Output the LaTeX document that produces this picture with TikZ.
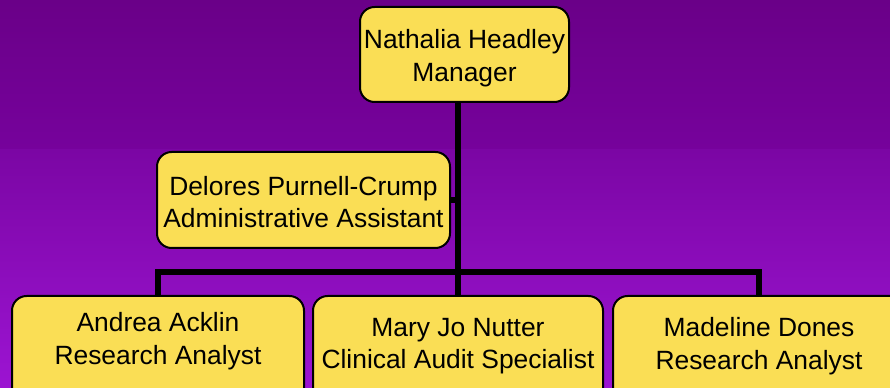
\documentclass[tikz,border=0pt]{standalone}
\usepackage{fontspec}
\setmainfont{Liberation Sans}
\definecolor{boxyellow}{RGB}{250,222,85}
\definecolor{bgtopA}{RGB}{106,0,136}
\definecolor{bgtopB}{RGB}{118,2,156}
\definecolor{bgbotA}{RGB}{123,6,164}
\definecolor{bgbotB}{RGB}{156,20,210}
\tikzset{
  orgbox/.style={draw=black, line width=1.5pt, fill=boxyellow, rounded corners=11pt, inner sep=0pt},
  orgtext/.style={align=center, inner sep=0pt, font=\fontsize{19.8}{24.5}\selectfont},
  conn/.style={draw=black, line width=4.5pt, line join=miter, line cap=butt}
}
\begin{document}
\begin{tikzpicture}[x=0.75pt, y=-0.75pt]
\useasboundingbox (0,0) rectangle (890,388);
\clip (0,0) rectangle (890,388);
\shade[top color=bgtopA, bottom color=bgtopB] (0,0) rectangle (890,150);
\shade[top color=bgbotA, bottom color=bgbotB] (0,150) rectangle (890,388);

% boxes
\node[orgbox, minimum width=156.75pt, minimum height=71.25pt] (mgr) at (464.5,54.5) {};
\node[orgtext] (mgrtxt) at (464.5,58.5) {Nathalia Headley\\Manager};

\node[orgbox, minimum width=219.75pt, minimum height=72pt] (asst) at (303.5,200) {};
\node[orgtext] (assttxt) at (303.5,202) {Delores Purnell-Crump\\Administrative Assistant};

\node[orgbox, minimum width=219pt, minimum height=82.5pt] (andrea) at (158,351) {};
\node[orgtext] (andreatxt) at (158,341.25) {Andrea Acklin\\Research Analyst};

\node[orgbox, minimum width=217.5pt, minimum height=82.5pt] (mary) at (458,351) {};
\node[orgtext] (marytxt) at (458,346.25) {Mary Jo Nutter\\Clinical Audit Specialist};

\node[orgbox, minimum width=219pt, minimum height=82.5pt] (madeline) at (759,351) {};
\node[orgtext] (madelinetxt) at (759,346.25) {Madeline Dones\\Research Analyst};

% connectors
\coordinate (trunk) at (458,272);
\draw[conn] (mgr.south -| trunk) -- (trunk) -- (mary.north);
\draw[conn] (andrea.north) -- (andrea.north |- trunk) -- (madeline.north |- trunk) -- (madeline.north);
\draw[conn] (asst.east) -- (asst.east -| trunk);
\end{tikzpicture}
\end{document}
